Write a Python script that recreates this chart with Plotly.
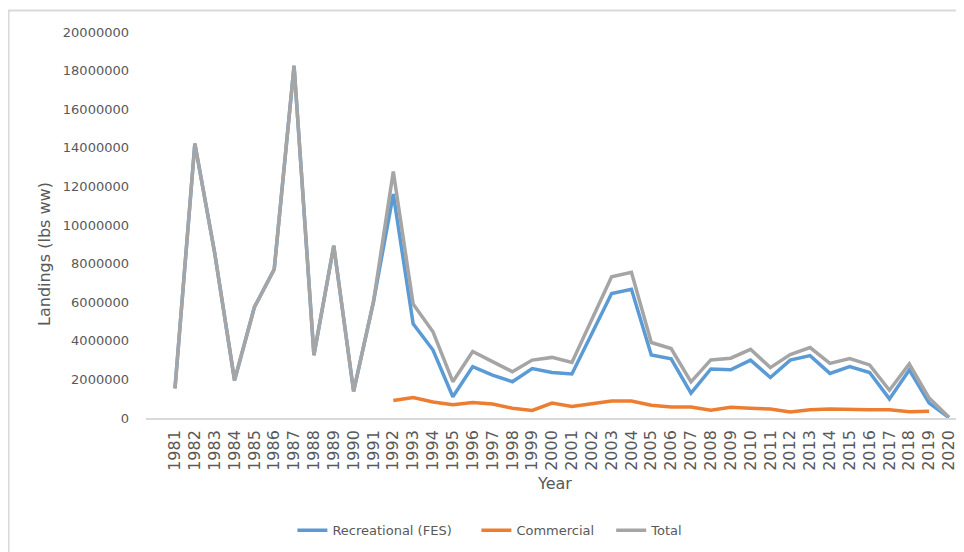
import plotly.graph_objects as go

years = list(range(1981, 2021))

recreational = [1540000, 14220000, 8550000, 1950000, 5740000, 7710000, 18250000, 3260000,
                8920000, 1380000, 6020000, 11600000, 4880000, 3520000, 1100000, 2660000,
                2220000, 1880000, 2560000, 2360000, 2280000, 4380000, 6450000, 6670000,
                3260000, 3070000, 1290000, 2540000, 2500000, 3000000, 2100000, 3000000,
                3230000, 2310000, 2660000, 2360000, 990000, 2490000, 770000, 20000]

commercial = [None] * 11 + [910000, 1060000, 830000, 690000, 800000, 720000, 510000,
                            390000, 770000, 600000, 740000, 880000, 880000, 660000, 570000,
                            570000, 400000, 560000, 500000, 460000, 310000, 430000, 460000,
                            430000, 430000, 430000, 320000, 350000, None]

total = [1540000, 14220000, 8550000, 1950000, 5740000, 7710000, 18250000, 3260000,
         8920000, 1380000, 6020000, 12770000, 5900000, 4470000, 1880000, 3450000,
         2920000, 2400000, 3000000, 3140000, 2880000, 5100000, 7320000, 7550000,
         3910000, 3600000, 1870000, 3010000, 3100000, 3560000, 2610000, 3290000,
         3650000, 2830000, 3080000, 2750000, 1440000, 2800000, 1030000, 40000]

y_ticks = list(range(0, 20000001, 2000000))

fig = go.Figure()
fig.add_trace(go.Scatter(x=years, y=recreational, mode="lines", name="Recreational (FES)",
                         line=dict(color="#5B9BD5", width=3.5), legend="legend"))
fig.add_trace(go.Scatter(x=years, y=commercial, mode="lines", name="Commercial",
                         line=dict(color="#ED7D31", width=3.5), connectgaps=False,
                         legend="legend2"))
fig.add_trace(go.Scatter(x=years, y=total, mode="lines", name="Total",
                         line=dict(color="#A5A5A5", width=3.5), legend="legend3"))

tick_font = dict(family="DejaVu Sans", size=13, color="#595959")
leg_font = dict(family="DejaVu Sans", size=13, color="#595959")


def leg(x):
    return dict(orientation="h", x=x, xanchor="left", y=-0.2912, yanchor="middle",
                font=leg_font, bgcolor="rgba(0,0,0,0)", borderwidth=0)


fig.update_layout(
    width=956, height=544,
    margin=dict(l=138, r=7, t=24, b=132),
    paper_bgcolor="white", plot_bgcolor="white",
    showlegend=True,
    legend=leg(0.1805),
    legend2=leg(0.4074),
    legend3=leg(0.5736),
    xaxis=dict(range=[1979.539, 2020.404], tickmode="array", tickvals=years,
               ticktext=[str(y) for y in years], tickangle=-90,
               tickfont=dict(family="DejaVu Sans", size=16, color="#595959"),
               showgrid=False, zeroline=False, showline=True, linecolor="#d9d9d9",
               linewidth=1.5, ticks="", ticklabelstandoff=4),
    yaxis=dict(range=[0, 20000000], tickmode="array", tickvals=y_ticks,
               ticktext=[str(v) for v in y_ticks], tickfont=tick_font,
               showgrid=False, zeroline=False, showline=False, ticks="",
               ticklabelstandoff=16),
    annotations=[
        dict(text="Landings (lbs ww)", xref="paper", yref="paper", x=-0.1245, y=0.425,
             xanchor="center", yanchor="middle", textangle=-90, showarrow=False,
             font=dict(family="DejaVu Sans", size=16, color="#595959")),
        dict(text="Year", xref="paper", yref="paper", x=0.504, y=-0.17,
             xanchor="center", yanchor="middle", showarrow=False,
             font=dict(family="DejaVu Sans", size=16, color="#595959")),
    ],
    shapes=[dict(type="rect", xref="paper", yref="paper", x0=-0.1695, x1=1.2,
                 y0=-0.6, y1=1.0554, line=dict(color="#d9d9d9", width=2),
                 fillcolor="rgba(0,0,0,0)", layer="below")],
)

fig.write_html("out.html")
